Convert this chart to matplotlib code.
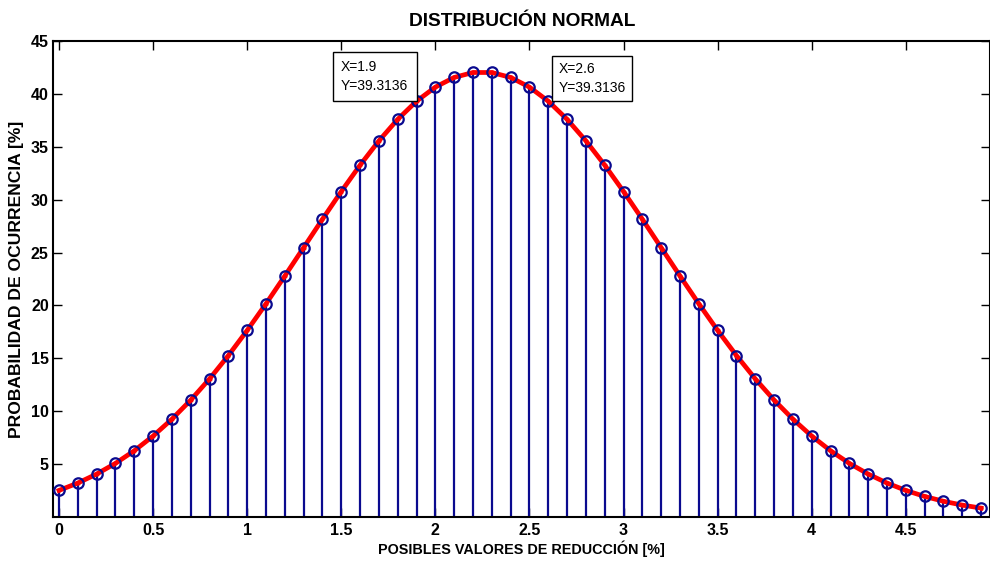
import matplotlib.pyplot as plt
import numpy as np

plt.rcParams['font.family'] = ['Liberation Sans', 'DejaVu Sans']

# valores de reducción (%) y probabilidad de ocurrencia (%)
x = [0.0, 0.1, 0.2, 0.3, 0.4, 0.5, 0.6, 0.7, 0.8, 0.9,
     1.0, 1.1, 1.2, 1.3, 1.4, 1.5, 1.6, 1.7, 1.8, 1.9,
     2.0, 2.1, 2.2, 2.3, 2.4, 2.5, 2.6, 2.7, 2.8, 2.9,
     3.0, 3.1, 3.2, 3.3, 3.4, 3.5, 3.6, 3.7, 3.8, 3.9,
     4.0, 4.1, 4.2, 4.3, 4.4, 4.5, 4.6, 4.7, 4.8, 4.9]
prob = [2.517, 3.215, 4.063, 5.074, 6.269, 7.658, 9.253, 11.057, 13.064, 15.268,
        17.644, 20.163, 22.789, 25.471, 28.154, 30.774, 33.268, 35.564, 37.599, 39.3136,
        40.645, 41.559, 42.025, 42.025, 41.559, 40.645, 39.3136, 37.599, 35.564, 33.268,
        30.774, 28.154, 25.471, 22.789, 20.163, 17.644, 15.268, 13.064, 11.057, 9.253,
        7.658, 6.269, 5.074, 4.063, 3.215, 2.517, 1.949, 1.492, 1.130, 0.846]
xticks = [0, 0.5, 1, 1.5, 2, 2.5, 3, 3.5, 4, 4.5]
yticks = [5, 10, 15, 20, 25, 30, 35, 40, 45]
tips = [1.9, 2.6]

navy = '#0a0a8f'

fig = plt.figure(figsize=(9.9, 5.62), dpi=100)
ax = fig.add_axes([0.0535, 0.080, 0.947, 0.847])

ax.vlines(x, 0, prob, color=navy, lw=1.6, zorder=2)
ax.plot(x, prob, color='red', lw=3.4, zorder=3)
ax.plot(x, prob, ls='none', marker='.', color='red', ms=4, zorder=5)
ax.plot(x, prob, ls='none', marker='o', mfc='none', mec=navy, mew=1.6, ms=7.5, zorder=4)

ax.set_xlim(-0.032, 4.95)
ax.set_ylim(0, 45)
ax.set_xticks(xticks)
ax.set_xticklabels(['0', '0.5', '1', '1.5', '2', '2.5', '3', '3.5', '4', '4.5'])
ax.set_yticks(yticks)
ax.tick_params(direction='in', length=6.5, width=1, top=True, right=True,
               labelsize=11.5, pad=4)
ax.tick_params(axis='y', pad=3)
for lab in ax.get_xticklabels() + ax.get_yticklabels():
    lab.set_fontweight('bold')
for s in ax.spines.values():
    s.set_linewidth(1.5)

ax.set_title('DISTRIBUCIÓN NORMAL', fontsize=13.8, fontweight='bold', pad=11)
ax.set_xlabel('POSIBLES VALORES DE REDUCCIÓN [%]', fontsize=10.4, fontweight='bold',
              labelpad=2)
ax.set_ylabel('PROBABILIDAD DE OCURRENCIA [%]', fontsize=12.6, fontweight='bold', labelpad=5)

# cuadros de datos anclados a los puntos marcados
fs = 10
for xt, side, pad in [(tips[0], 'right', 0.6), (tips[1], 'left', 0.45)]:
    yt = prob[x.index(xt)]
    off = pad * fs
    dx = -off if side == 'right' else off + 3
    ax.annotate('X=%g\nY=%.4f' % (xt, yt), xy=(xt, yt), xytext=(dx, off),
                textcoords='offset points', ha=side, va='bottom', fontsize=fs,
                multialignment='left', linespacing=1.45, zorder=6,
                bbox=dict(boxstyle='square,pad=%g' % pad, fc='white', ec='black', lw=1))

fig.savefig('out.png', dpi=100)
